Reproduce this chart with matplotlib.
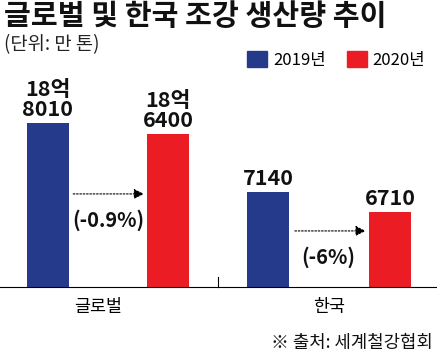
import matplotlib.pyplot as plt
from matplotlib.lines import Line2D
from matplotlib.patches import Patch

plt.rcParams['font.family'] = ['Noto Sans CJK KR', 'DejaVu Sans']

# data (단위: 만 톤)
categories = ['글로벌', '한국']
years = ['2019년', '2020년']
global_values = [188010, 186400]
korea_values = [7140, 6710]
change_labels = ['(-0.9%)', '(-6%)']
colors = ['#263a8c', '#ec1c24']

W, H = 437, 358
fig = plt.figure(figsize=(W / 100, H / 100), dpi=100)


def px_box(x0, x1, y_top, y_bottom):
    return [x0 / W, 1 - y_bottom / H, (x1 - x0) / W, (y_bottom - y_top) / H]


def fmt(v):
    if v >= 10000:
        return f"{v // 10000}억\n{v % 10000}"
    return f"{v}"


ax_g = fig.add_axes(px_box(0, 218, 60, 287))
ax_k = fig.add_axes(px_box(218, 437, 60, 287))

# each group uses its own truncated scale
settings = [
    (ax_g, global_values, (164000, 197230), (-0.4, 1.417), 0.42, (0.21, 0.80, 0.41), (0.5, 0.295)),
    (ax_k, korea_values, (5098, 9978), (-0.41, 1.385), 0.5, (0.22, 0.80, 0.247), (0.49, 0.132)),
]

for i, (ax, vals, ylim, xlim, catx, arrow, chg) in enumerate(settings):
    ax.bar([0, 1], vals, width=0.35, color=colors)
    ax.set_ylim(*ylim)
    ax.set_xlim(*xlim)
    for x, v in zip([0, 1], vals):
        ax.annotate(fmt(v), (x, v), xytext=(0, 2), textcoords='offset points',
                    ha='center', va='bottom', fontsize=15.5, fontweight='heavy',
                    linespacing=0.98, color='#111111')
    ax.annotate('', xy=(arrow[1], arrow[2]), xytext=(arrow[0], arrow[2]),
                xycoords=('data', 'axes fraction'), textcoords=('data', 'axes fraction'),
                arrowprops=dict(arrowstyle='-|>', linestyle=(0, (1.5, 1.5)), lw=0.8,
                                color='black', mutation_scale=15, shrinkA=0, shrinkB=0))
    ax.text(chg[0], chg[1], change_labels[i], transform=ax.get_xaxis_transform(),
            ha='center', va='center', fontsize=14.5, fontweight='bold', color='#111111')
    ax.set_xticks([catx])
    ax.set_xticklabels([categories[i]], fontsize=12.5)
    ax.tick_params(axis='x', length=0, pad=8)
    ax.set_yticks([])
    for s in ['top', 'left', 'right']:
        ax.spines[s].set_visible(False)
    ax.spines['bottom'].set_linewidth(0.8)
    ax.patch.set_alpha(0)

# separator tick between groups
fig.add_artist(Line2D([218 / W, 218 / W], [1 - 287 / H, 1 - 277 / H], color='black', lw=0.8))

fig.text(4 / W, 1 - 16 / H, '글로벌 및 한국 조강 생산량 추이', fontsize=21, fontweight='heavy',
         va='center', ha='left', color='#111111')
fig.text(4 / W, 1 - 45 / H, '(단위: 만 톤)', fontsize=13.5, va='center', ha='left', color='#222222')
fig.text(433 / W, 1 - 343 / H, '※ 출처: 세계철강협회', fontsize=12.8, va='center', ha='right', color='#111111')

handles = [Patch(color=c) for c in colors]
fig.legend(handles, years, loc='upper left', bbox_to_anchor=(247 / W, 1 - 51 / H), ncol=2,
           frameon=False, fontsize=12, handlelength=1.2, handleheight=1.08,
           handletextpad=0.36, columnspacing=1.26, borderpad=0, borderaxespad=0)

fig.savefig('out.png', dpi=100)
